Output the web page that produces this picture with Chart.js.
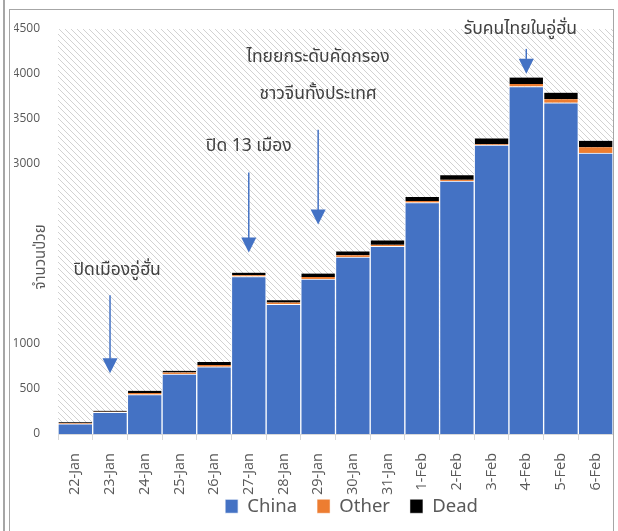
<!DOCTYPE html>
<html>
<head>
<meta charset="utf-8">
<script src="https://cdn.jsdelivr.net/npm/chart.js@4.4.1/dist/chart.umd.min.js"></script>
<style>
  body { margin: 0; background: #fff; width: 618px; height: 531px; overflow: hidden; position: relative; }
  #edge { position: absolute; left: 3px; top: 0; width: 2px; height: 531px; background: #a6a6a6; }
  #frame { position: absolute; left: 9px; top: 9px; width: 603px; height: 540px; border: 1px solid #a6a6a6; }
  #wrap { position: absolute; left: 10px; top: 10px; width: 603px; height: 521px; }
</style>
</head>
<body>
<div id="edge"></div>
<div id="frame"></div>
<div id="wrap"><canvas id="cases"></canvas></div>
<script>
// daily new cases
var days = ['22-Jan', '23-Jan', '24-Jan', '25-Jan', '26-Jan', '27-Jan', '28-Jan', '29-Jan',
            '30-Jan', '31-Jan', '1-Feb', '2-Feb', '3-Feb', '4-Feb', '5-Feb', '6-Feb'];
var china = [112, 240, 437, 665, 746, 1750, 1440, 1722, 1966, 2085, 2570, 2810, 3210, 3860, 3680, 3120];
var other = [8, 8, 18, 18, 20, 15, 20, 22, 20, 18, 18, 15, 10, 30, 40, 65];
var dead = [10, 10, 25, 20, 35, 28, 26, 38, 43, 48, 45, 50, 64, 70, 73, 73];
var yTickLabels = ['0', '500', '1000', '', '', '', '3000', '3500', '4000', '4500'];

// notes drawn on the chart: [text, category, value]
var notes = [
    ['ปิดเมืองอู่ฮั่น', '23-Jan', 1807],
    ['ปิด 13 เมือง', '27-Jan', 3182],
    ['ไทยยกระดับคัดกรอง', '29-Jan', 4169],
    ['ชาวจีนทั้งประเทศ', '29-Jan', 3758],
    ['รับคนไทยในอู่ฮั่น', '4-Feb', 4479]
];
// arrows: [category, from value, to value]
var arrows = [
    ['23-Jan', 1541, 676],
    ['27-Jan', 2905, 2018],
    ['29-Jan', 3381, 2328],
    ['4-Feb', 4279, 4002]
];

var thaiFont = "'Noto Sans Thai', 'Noto Sans', 'DejaVu Sans', sans-serif";

function hatch() {
    var c = document.createElement('canvas');
    c.width = 6; c.height = 6;
    var g = c.getContext('2d');
    g.strokeStyle = '#d2d2d2';
    g.lineWidth = 1;
    g.beginPath();
    g.moveTo(0, 0); g.lineTo(6, 6);
    g.moveTo(-3, 3); g.lineTo(3, 9);
    g.moveTo(3, -3); g.lineTo(9, 3);
    g.stroke();
    return c;
}

var backdrop = {
    id: 'backdrop',
    beforeDatasetsDraw: function(chart) {
        var a = chart.chartArea, ctx = chart.ctx;
        ctx.save();
        ctx.fillStyle = ctx.createPattern(hatch(), 'repeat');
        ctx.fillRect(a.left, a.top, a.right - a.left, a.bottom - a.top);
        ctx.restore();
    }
};

var notesPlugin = {
    id: 'notes',
    beforeLayout: function(chart) {
        var lg = chart.legend;
        if (lg && !lg._squeezed) {
            var fit = lg.fit;
            lg.fit = function() { fit.call(this); this.height = 31; };
            lg._squeezed = true;
        }
    },
    afterLayout: function(chart) {
        var lg = chart.legend;
        lg.left += 38;
        lg.right += 38;
        lg.top = 467;
        lg.bottom = lg.top + 50;
    },
    afterDraw: function(chart) {
        var ctx = chart.ctx, x = chart.scales.x, y = chart.scales.y;
        ctx.save();
        ctx.fillStyle = '#404040';
        ctx.font = '17.5px ' + thaiFont;
        ctx.textAlign = 'center';
        ctx.textBaseline = 'middle';
        notes.forEach(function(n) {
            var px = x.getPixelForValue(days.indexOf(n[1]));
            if (n[1] == '4-Feb') px -= 6;
            if (n[1] == '23-Jan') px += 7;
            ctx.fillText(n[0], px, y.getPixelForValue(n[2]));
        });
        ctx.strokeStyle = '#4472C4';
        ctx.fillStyle = '#4472C4';
        ctx.lineWidth = 1.5;
        arrows.forEach(function(r) {
            var px = x.getPixelForValue(days.indexOf(r[0]));
            var y0 = y.getPixelForValue(r[1]), y1 = y.getPixelForValue(r[2]);
            ctx.beginPath();
            ctx.moveTo(px, y0);
            ctx.lineTo(px, y1 - 12);
            ctx.stroke();
            ctx.beginPath();
            ctx.moveTo(px - 7.5, y1 - 15);
            ctx.lineTo(px + 7.5, y1 - 15);
            ctx.lineTo(px, y1);
            ctx.closePath();
            ctx.fill();
        });
        // y axis title
        ctx.fillStyle = '#595959';
        ctx.font = '15px ' + thaiFont;
        ctx.translate(32, 247);
        ctx.rotate(-Math.PI / 2);
        ctx.fillText('จำนวนป่วย', 0, 0);
        ctx.restore();
    }
};

var ctx = document.getElementById('cases').getContext('2d');
var casesChart = new Chart(ctx, {
    type: 'bar',
    data: {
        labels: days,
        datasets: [{
            label: 'China',
            data: china,
            backgroundColor: '#4472C4',
            borderColor: '#ffffff',
            borderWidth: {left: 1, right: 1, top: 1, bottom: 0}
        }, {
            label: 'Other',
            data: other,
            backgroundColor: '#ED7D31',
            borderColor: '#ffffff',
            borderWidth: {left: 1, right: 1, top: 0, bottom: 0}
        }, {
            label: 'Dead',
            data: dead,
            backgroundColor: '#000000',
            borderColor: '#ffffff',
            borderWidth: {left: 1, right: 1, top: 0, bottom: 0}
        }]
    },
    options: {
        responsive: true,
        maintainAspectRatio: false,
        animation: false,
        barPercentage: 1,
        categoryPercentage: 1,
        layout: { padding: { left: 4, top: 19, right: 0, bottom: 0 } },
        plugins: {
            legend: {
                position: 'bottom',
                labels: {
                    boxWidth: 13,
                    boxHeight: 14,
                    padding: 20,
                    color: '#595959',
                    font: { size: 18.5, family: "'Noto Sans', sans-serif" }
                }
            },
            tooltip: { enabled: false }
        },
        scales: {
            x: {
                stacked: true,
                grid: { drawOnChartArea: false, color: '#d9d9d9', tickLength: 6 },
                border: { color: '#d9d9d9' },
                ticks: {
                    minRotation: 90,
                    maxRotation: 90,
                    padding: 13,
                    color: '#595959',
                    font: { size: 14.5, family: "'Open Sans', sans-serif" }
                },
                afterFit: function(s) {
                    s.paddingLeft = 0;
                    s.paddingRight = 0;
                    s.height = s.chart.height - 424 - 31;
                }
            },
            y: {
                stacked: true,
                min: 0,
                max: 4500,
                grid: { display: false, drawTicks: false },
                border: { display: false },
                ticks: {
                    stepSize: 500,
                    padding: 18,
                    color: '#595959',
                    font: { size: 12, family: "'Open Sans', sans-serif" },
                    callback: function(v, i) { return yTickLabels[i]; }
                },
                afterFit: function(s) {
                    s.width = 44;
                    s.paddingTop = 0;
                    s.paddingBottom = 0;
                }
            }
        }
    },
    plugins: [backdrop, notesPlugin]
});
</script>
</body>
</html>
